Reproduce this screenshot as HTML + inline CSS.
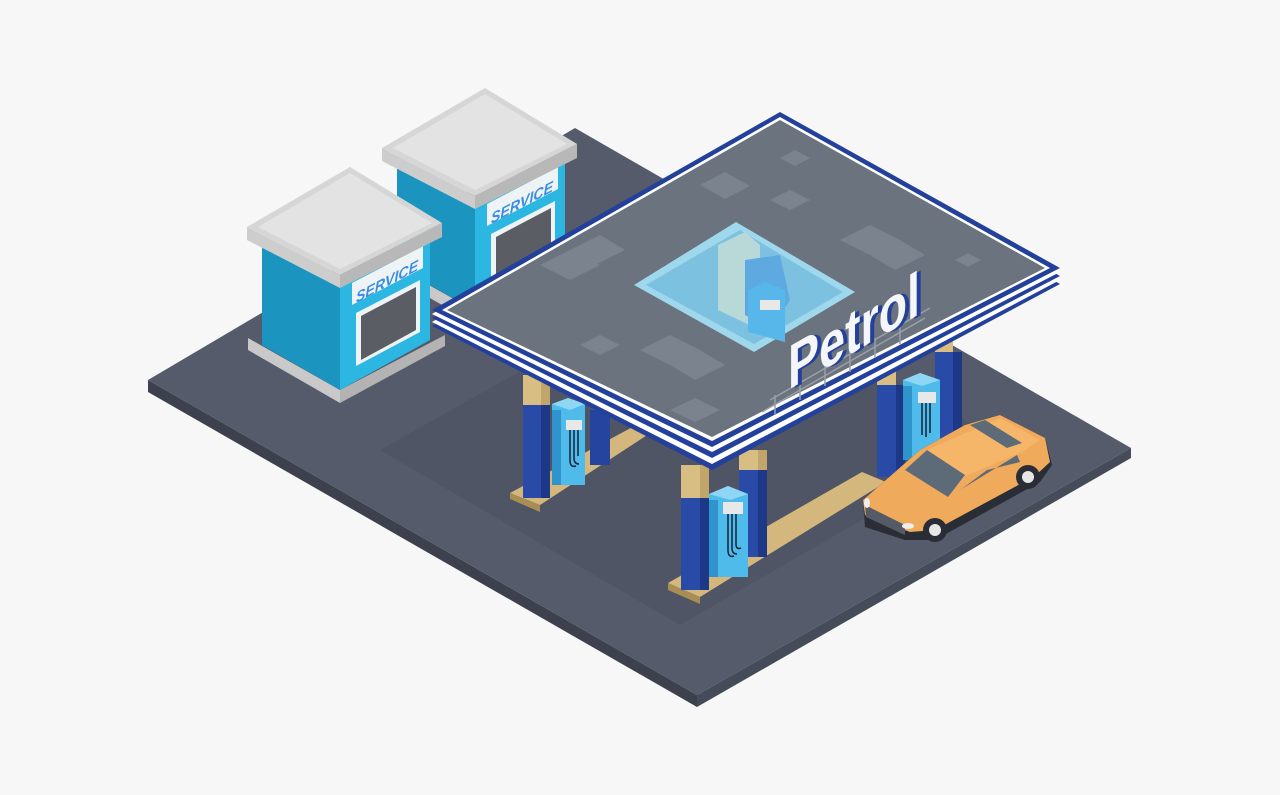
<!DOCTYPE html>
<html><head><meta charset="utf-8"><style>
html,body{margin:0;padding:0;background:#f7f7f7;}
svg{display:block;}
</style></head><body>
<svg width="1280" height="795" viewBox="0 0 1280 795" xmlns="http://www.w3.org/2000/svg">
<rect width="1280" height="795" fill="#f7f7f7"/>
<!-- ground slab -->
<polygon points="148,380 697,695 697,707 148,392" fill="#3d414e"/>
<polygon points="697,695 1131,448 1131,458 697,707" fill="#464b59"/>
<polygon points="148,380 575,128 1131,448 697,695" fill="#555b6b"/>
<polygon points="380,450 700,270 1000,440 680,625" fill="#4f5564"/>

<!-- Building 2 (back) -->
<g transform="translate(135,-79)">
<polygon points="248,338 340,390 340,403 248,350" fill="#c9c9c9"/>
<polygon points="340,390 445,335 445,346 340,403" fill="#b3b3b3"/>
<polygon points="262,240 340,285 340,390 262,345" fill="#1b94bf"/>
<polygon points="340,285 430,237 430,340 340,390" fill="#2cb6e2"/>
<polygon points="352,283 423,246 423,268 352,305" fill="#eef3f6"/>
<g transform="translate(356,303) skewY(-28)"><text x="0" y="0" font-family="Liberation Sans, sans-serif" font-weight="bold" font-style="italic" font-size="15" fill="#3a8de0" textLength="62" lengthAdjust="spacingAndGlyphs">SERVICE</text></g>
<polygon points="356,313 420,280 420,332 356,366" fill="#eef3f6"/>
<polygon points="361,316 416,287 416,330 361,360" fill="#5a5d63"/>
<polygon points="247,227 340,275 340,288 247,240" fill="#cdcdcd"/>
<polygon points="340,275 442,223 442,237 340,288" fill="#b8b8b8"/>
<polygon points="247,227 350,167 442,223 340,275" fill="#d6d6d6"/>
<polygon points="258,227 350,173 432,223 340,269" fill="#e3e3e3"/>
</g>

<!-- Building 1 (front) -->
<g>
<polygon points="248,338 340,390 340,403 248,350" fill="#c9c9c9"/>
<polygon points="340,390 445,335 445,346 340,403" fill="#b3b3b3"/>
<polygon points="262,240 340,285 340,390 262,345" fill="#1b94bf"/>
<polygon points="340,285 430,237 430,340 340,390" fill="#2cb6e2"/>
<polygon points="352,283 423,246 423,268 352,305" fill="#eef3f6"/>
<g transform="translate(356,303) skewY(-28)"><text x="0" y="0" font-family="Liberation Sans, sans-serif" font-weight="bold" font-style="italic" font-size="15" fill="#3a8de0" textLength="62" lengthAdjust="spacingAndGlyphs">SERVICE</text></g>
<polygon points="356,313 420,280 420,332 356,366" fill="#eef3f6"/>
<polygon points="361,316 416,287 416,330 361,360" fill="#5a5d63"/>
<polygon points="247,227 340,275 340,288 247,240" fill="#cdcdcd"/>
<polygon points="340,275 442,223 442,237 340,288" fill="#b8b8b8"/>
<polygon points="247,227 350,167 442,223 340,275" fill="#d6d6d6"/>
<polygon points="258,227 350,173 432,223 340,269" fill="#e3e3e3"/>
</g>

<!-- islands -->
<polygon points="510,493 640,423 655,430 540,505" fill="#d4b77c"/>
<polygon points="510,493 540,505 540,512 510,499" fill="#a98d55"/>
<polygon points="668,583 862,472 886,482 700,597" fill="#d4b77c"/>
<polygon points="668,583 700,597 700,604 668,590" fill="#a98d55"/>

<!-- back pillars -->
<rect x="590" y="410" width="20" height="55" fill="#2544a0"/>
<rect x="739" y="450" width="19" height="20" fill="#d9be84"/>
<rect x="758" y="450" width="9" height="20" fill="#c2a56a"/>
<rect x="739" y="470" width="19" height="87" fill="#2a4aa8"/>
<rect x="758" y="470" width="9" height="87" fill="#1e3888"/>
<rect x="935" y="340" width="18" height="12" fill="#d9be84"/>
<rect x="935" y="352" width="18" height="88" fill="#2a4aa8"/>
<rect x="953" y="352" width="9" height="88" fill="#1e3888"/>

<!-- left pillar + pump -->
<rect x="523" y="375" width="18" height="30" fill="#d9be84"/>
<rect x="541" y="375" width="9" height="30" fill="#c2a56a"/>
<rect x="523" y="405" width="18" height="93" fill="#2a4aa8"/>
<rect x="541" y="405" width="9" height="93" fill="#1e3888"/>
<polygon points="552,404 568,398 585,404 585,485 552,485" fill="#4fbbea"/>
<polygon points="552,404 568,398 585,404 570,410" fill="#8fd6f4"/>
<rect x="552" y="410" width="9" height="75" fill="#2f93cc"/>
<rect x="566" y="420" width="16" height="10" fill="#e8e8e8"/>
<path d="M570,430 v30 q0,8 6,6 M574,430 v28 q0,6 5,6 M578,430 v26" stroke="#13233a" stroke-width="1.5" fill="none"/>

<!-- right pillar + pump -->
<rect x="877" y="370" width="19" height="15" fill="#d9be84"/>
<rect x="877" y="385" width="19" height="92" fill="#2a4aa8"/>
<rect x="896" y="385" width="9" height="92" fill="#1e3888"/>
<polygon points="903,380 920,373 940,380 940,460 903,460" fill="#4fbbea"/>
<polygon points="903,380 920,373 940,380 922,386" fill="#8fd6f4"/>
<rect x="903" y="386" width="9" height="74" fill="#2f93cc"/>
<rect x="918" y="392" width="18" height="11" fill="#e8e8e8"/>
<path d="M922,403 v32 M926,403 v34 M930,403 v30" stroke="#13233a" stroke-width="1.5" fill="none"/>

<!-- front pillar + pump -->
<rect x="681" y="465" width="19" height="33" fill="#d9be84"/>
<rect x="700" y="465" width="9" height="33" fill="#c2a56a"/>
<rect x="681" y="498" width="19" height="92" fill="#2a4aa8"/>
<rect x="700" y="498" width="9" height="92" fill="#1e3888"/>
<polygon points="709,494 728,486 748,494 748,577 709,577" fill="#4fbbea"/>
<polygon points="709,494 728,486 748,494 730,500" fill="#8fd6f4"/>
<rect x="709" y="500" width="9" height="77" fill="#2f93cc"/>
<rect x="723" y="502" width="20" height="12" fill="#e8e8e8"/>
<path d="M728,514 v36 q0,8 6,6 M732,514 v34 q0,6 5,6 M736,514 v30 q0,6 5,4" stroke="#13233a" stroke-width="1.5" fill="none"/>

<!-- canopy: stacked stripes shifted downward -->
<polygon points="780,128 1060,284 712,470 432,326" fill="#23409a"/>
<polygon points="780,124 1060,280 712,464 432,322" fill="#ffffff"/>
<polygon points="780,120 1060,276 712,458 432,318" fill="#23409a"/>
<polygon points="780,116 1060,272 712,452 432,314" fill="#ffffff"/>
<polygon points="780,112 1060,268 712,447 432,310" fill="#23409a"/>
<polygon points="780,117 1050,268 712,441 442,310" fill="#ffffff"/>
<polygon points="780,120 1045,268 712,437 447,310" fill="#6a737e"/>
<!-- patches -->
<g fill="#7a838e">
<polygon points="700,185 725,172 750,186 725,199"/>
<polygon points="780,158 795,150 810,158 795,166"/>
<polygon points="840,240 870,225 900,240 870,255"/>
<polygon points="870,255 900,240 925,255 895,270"/>
<polygon points="540,265 570,250 600,265 570,280"/>
<polygon points="570,250 600,235 625,250 595,265"/>
<polygon points="640,350 670,335 700,350 670,365"/>
<polygon points="670,365 700,350 725,365 695,380"/>
<polygon points="580,345 600,335 620,345 600,355"/>
<polygon points="670,410 695,398 720,410 695,422"/>
<polygon points="955,260 968,253 981,260 968,267"/>
<polygon points="770,200 790,190 810,200 790,210"/>
</g>
<!-- skylight -->
<polygon points="736,222 855,292 754,352 634,285" fill="#9fd8ec"/>
<polygon points="740,230 843,292 754,344 646,285" fill="#7cc2e0"/>
<polygon points="718,245 745,232 760,245 760,330 718,310" fill="#b9d9d8"/>
<polygon points="745,260 780,255 790,300 770,330 745,315" fill="#5ea9e0"/>
<polygon points="748,290 765,282 785,290 785,342 748,332" fill="#58b7ea"/>
<rect x="760" y="300" width="20" height="10" fill="#e8e8e8"/>
<!-- sign frame -->
<g stroke="#9aa0a8" stroke-width="1.5" fill="none">
<path d="M762,412 L925,318 M770,400 L930,308"/>
<path d="M775,395 v20 M800,380 v20 M825,366 v20 M850,352 v20 M875,338 v20 M900,324 v20"/>
</g>
<!-- Petrol text -->
<g transform="translate(788,390) skewY(-30)">
<text x="4" y="2" font-family="Liberation Sans, sans-serif" font-weight="bold" font-size="62" fill="#23409a" textLength="132" lengthAdjust="spacingAndGlyphs">Petrol</text>
<text x="0" y="0" font-family="Liberation Sans, sans-serif" font-weight="bold" font-size="62" fill="#f4f6fa" textLength="132" lengthAdjust="spacingAndGlyphs">Petrol</text>
</g>

<!-- car -->
<polygon points="863,500 920,450 965,425 1000,415 1045,438 1052,465 1040,482 935,540 905,540 865,527" fill="#2a2d35"/>
<polygon points="863,500 920,450 965,425 1000,415 1045,438 1050,462 1035,476 935,530 910,532 865,515" fill="#f0aa5c"/>
<polygon points="905,470 927,450 1000,418 1040,440 1022,452 965,476 948,497" fill="#f5b66a"/>
<polygon points="905,470 927,450 965,475 948,497" fill="#5d6a78"/>
<polygon points="970,425 985,420 1022,443 1007,448" fill="#5d6a78"/>
<polygon points="960,490 1017,455 1020,462 987,470 963,488" fill="#5d6a78"/>
<polygon points="865,505 905,525 905,535 866,517" fill="#555b66"/>
<circle cx="935" cy="530" r="12" fill="#2a2d35"/><circle cx="935" cy="530" r="6" fill="#e6e6e6"/>
<circle cx="1028" cy="477" r="12" fill="#2a2d35"/><circle cx="1028" cy="477" r="6" fill="#e6e6e6"/>
<ellipse cx="908" cy="526" rx="6" ry="3" fill="#eeeeee"/>
<ellipse cx="867" cy="503" rx="3" ry="5" fill="#eeeeee"/>
</svg>
</body></html>
